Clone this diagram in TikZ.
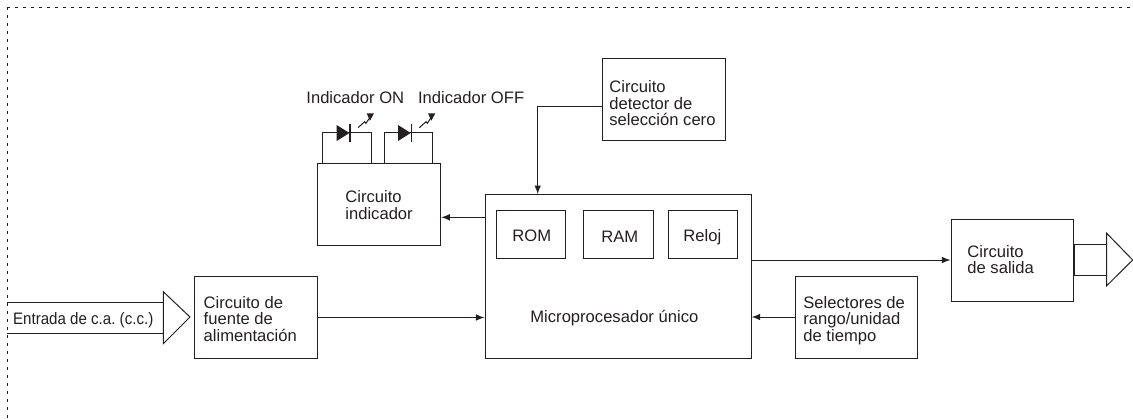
\documentclass[tikz,border=0pt]{standalone}
\usepackage{fontspec}
\setmainfont{Liberation Sans}
\newfontfamily\estrecha[FakeStretch=0.91]{Liberation Sans}
\definecolor{trazo}{HTML}{231F20}
\tikzset{
  bloque/.style={draw=trazo,line width=0.5pt,rectangle,inner sep=0pt},
  rotulo/.style={text=trazo,inner sep=0pt,align=left,anchor=north west},
  borde/.style={draw=trazo,line width=0.5pt,dash pattern=on 1.5pt off 2.5pt},
  enlace/.style={draw=trazo,line width=0.5pt,-latex},
  linea/.style={draw=trazo,line width=0.5pt}
}
\begin{document}
\begin{tikzpicture}[x=0.5pt,y=-0.5pt,font=\fontsize{8.3}{8.25}\selectfont]
  \useasboundingbox (0,0) rectangle (1133,419);
  % dotted frame of the sheet
  \coordinate (esquina) at (7.3,7.3);
  \draw[borde] (esquina) -- (1133,7.3);
  \draw[borde] (esquina) -- (7.3,419);
  % blocks
  \node[bloque,minimum height=41pt,minimum width=61.6pt] (detector) at (664.3,99.7) {};
  \node[bloque,minimum height=41pt,minimum width=61.5pt] (indicador) at (379.2,204.8) {};
  \node[bloque,minimum height=81.7pt,minimum width=133pt] (micro) at (618,276.3) {};
  \node[bloque,minimum height=24pt,minimum width=34.8pt] (rom) at (530.8,234) {};
  \node[bloque,minimum height=24pt,minimum width=34.8pt] (ram) at (618.3,234) {};
  \node[bloque,minimum height=24pt,minimum width=34.8pt] (reloj) at (702.8,234) {};
  \node[bloque,minimum height=40.8pt,minimum width=61.5pt] (fuente) at (255.5,317.5) {};
  \node[bloque,minimum height=41pt,minimum width=61pt] (selector) at (856,317) {};
  \node[bloque,minimum height=41pt,minimum width=61.3pt] (salida) at (1012.3,260) {};
  % texts of the blocks
  \node[rotulo] (detectortxt) at (609,80.3) {Circuito\\detector de\\selección cero};
  \node[rotulo] (indicadortxt) at (345,190.3) {Circuito\\indicador};
  \node[rotulo] (fuentetxt) at (203.3,295.7) {Circuito de\\fuente de\\alimentación};
  \node[rotulo] (selectortxt) at (803,295.7) {Selectores de\\rango/unidad\\de tiempo};
  \node[rotulo] (salidatxt) at (967,244.7) {Circuito\\de salida};
  \node[text=trazo,inner sep=0pt,anchor=base west] (romtxt) at (512,241.7) {ROM};
  \node[text=trazo,inner sep=0pt,anchor=base west] (ramtxt) at (601,242.3) {RAM};
  \node[text=trazo,inner sep=0pt,anchor=base west] (relojtxt) at (683,241) {Reloj};
  \node[text=trazo,inner sep=0pt,anchor=base west] (microtxt) at (530,322) {Microprocesador único};
  % connectors
  \coordinate (entradasel) at (537.7,106);
  \draw[enlace] (detector.west |- entradasel) -| (micro.north -| entradasel);
  \coordinate (nivelind) at (485,217.3);
  \draw[enlace] (micro.west |- nivelind) -- (indicador.east |- nivelind);
  \draw[enlace] (fuente.east) -- (micro.west |- fuente.east);
  \draw[enlace] (selector.west) -- (micro.east |- selector.west);
  \draw[enlace] (micro.east |- salida.west) -- (salida.west);
  % input terminal
  \coordinate (entrada) at (163.3,317);
  \draw[linea] (7.3,302) -- (entrada |- 0,302);
  \draw[linea] (7.3,333) -- (entrada |- 0,333);
  \draw[linea] (163.3,291.7) -- (190,317) -- (163.3,343.7) -- cycle;
  \node[text=trazo,inner sep=0pt,anchor=base west] (entradatxt) at (12.7,324.3) {\estrecha\frenchspacing Entrada de c.a. (c.c.)};
  % output terminal
  \draw[linea] (salida.east |- 0,244) rectangle (1106.7,275);
  \draw[linea] (1106.7,233.3) -- (1132.7,260) -- (1106.7,285.7) -- cycle;
  % indicator lamps
  \foreach \d in {322.7,384}{
    \draw[linea] (\d,164) -- (\d,132.7) -- (\d+48.7,132.7) -- (\d+48.7,164);
    \fill[trazo] (\d+14,125) -- (\d+26.7,133) -- (\d+14,141) -- cycle;
    \draw[trazo,line width=0.9pt] (\d+27.5,123.5) -- (\d+27.5,142);
    \draw[linea] (\d+35.3,127.7) -- (\d+42,121.7) -- (\d+43.3,123.3) -- (\d+47.5,117);
    \fill[trazo] (\d+44,113.3) -- (\d+51.3,113.3) -- (\d+47.3,120.7) -- cycle;
  }
  \node[text=trazo,inner sep=0pt,anchor=base west] (ledontxt) at (306,103.3) {Indicador ON};
  \node[text=trazo,inner sep=0pt,anchor=base west] (ledofftxt) at (417.7,103.3) {Indicador OFF};
\end{tikzpicture}
\end{document}
